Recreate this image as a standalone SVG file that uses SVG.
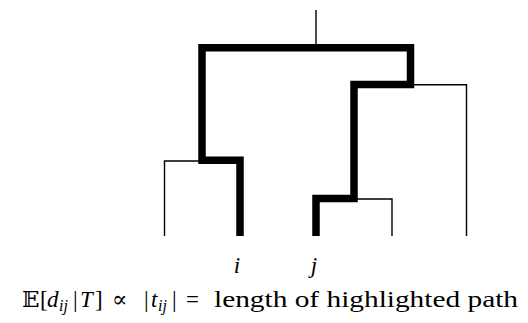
<svg xmlns="http://www.w3.org/2000/svg" width="528" height="323" viewBox="0 0 528 323">
<style>
.thin{fill:none;stroke:#000;stroke-width:1.4}
.thick{fill:none;stroke:#000;stroke-width:7.5;stroke-linejoin:miter}
.t{font-family:"Liberation Serif","DejaVu Serif",serif;font-size:23px;fill:#000}
.it{font-style:italic}
.sub{font-size:16px;font-style:italic}
</style>
<rect width="528" height="323" fill="#fff"/>
<g id="connectors">
<path class="thin" d="M316,10 V46"/>
<path class="thin" d="M200,161 H164.5 V236"/>
<path class="thin" d="M412,84.7 H466.5 V236"/>
<path class="thin" d="M356,199 H392 V236"/>
<path class="thick" d="M240,236 V160.3 H202 V47.8 H410.5 V84.5 H354 V198.5 H316 V236"/>
</g>
<g id="label-i"><text class="t it" x="237" y="273" text-anchor="middle">i</text></g>
<g id="label-j"><text class="t it" x="314" y="273" text-anchor="middle">j</text></g>
<g id="caption">
<text class="t" y="307"><tspan x="22">𝔼</tspan><tspan x="40">[</tspan><tspan class="it" x="47">d</tspan><tspan class="sub" x="59" dy="4">ij</tspan><tspan x="73" dy="-4">|</tspan><tspan class="it" x="80">T</tspan><tspan x="95">]</tspan><tspan x="112">∝</tspan><tspan x="144">|</tspan><tspan class="it" x="151">t</tspan><tspan class="sub" x="158" dy="4">ij</tspan><tspan x="172" dy="-4">|</tspan><tspan x="186">=</tspan></text>
<text class="t" x="214" y="307" textLength="304" lengthAdjust="spacingAndGlyphs">length of highlighted path</text>
</g>
</svg>
